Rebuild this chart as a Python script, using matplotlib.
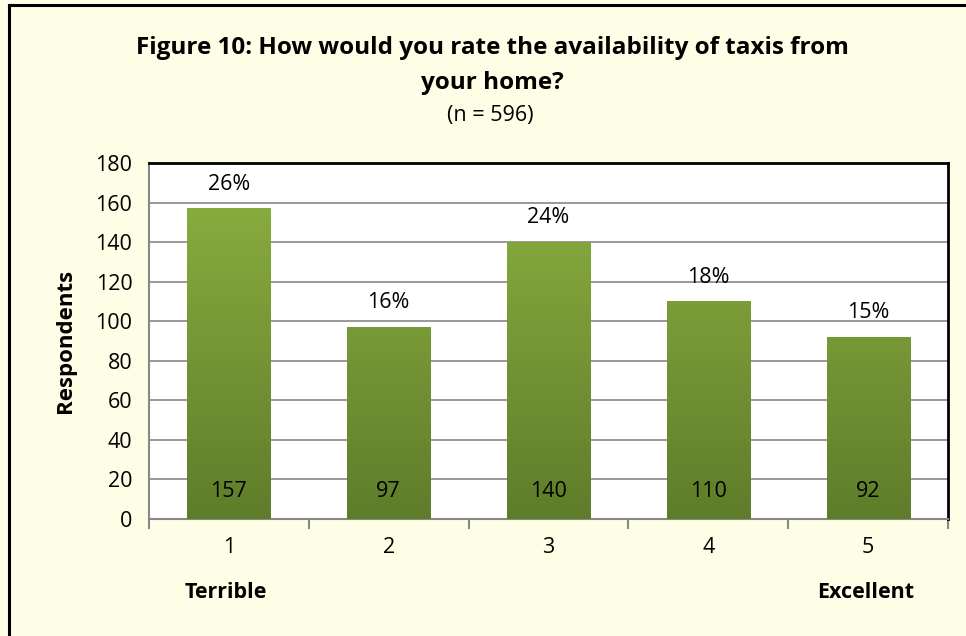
import matplotlib
matplotlib.use("Agg")
import matplotlib.pyplot as plt
import numpy as np
from matplotlib.lines import Line2D
from matplotlib.colors import LinearSegmentedColormap

ratings = ["1", "2", "3", "4", "5"]
respondents = [157, 97, 140, 110, 92]
pct_labels = ["26%", "16%", "24%", "18%", "15%"]
yticks = [0, 20, 40, 60, 80, 100, 120, 140, 160, 180]

plt.rcParams['font.family'] = ['Open Sans', 'DejaVu Sans']
fs = 15.5

fig = plt.figure(figsize=(9.66, 6.36), dpi=100)
fig.patch.set_facecolor('#FEFDE6')

# outer frame (left and top only visible)
fig.add_artist(Line2D([9/966, 9/966], [0, 1 - 5/636], color='black', lw=2.2))
fig.add_artist(Line2D([9/966, 1], [1 - 5/636, 1 - 5/636], color='black', lw=2.2))

ax = fig.add_axes([149/966, 117/636, 799/966, 356/636])
ax.set_facecolor('white')

x = np.arange(len(ratings))
bars = ax.bar(x, respondents, width=0.52, color='none', zorder=3)

# vertical green gradient inside each bar
grad_cmap = LinearSegmentedColormap.from_list('g', ['#5E7D2A', '#8DB241'])
grad = np.linspace(0, 1, 256).reshape(-1, 1)
for b in bars:
    x0, y0 = b.get_x(), b.get_y()
    w, h = b.get_width(), b.get_height()
    im = ax.imshow(grad, cmap=grad_cmap, aspect='auto', origin='lower',
                   extent=[x0, x0 + w, y0, y0 + 180], zorder=3)
    im.set_clip_path(b)

for i, v in enumerate(respondents):
    ax.text(x[i], v + 7, pct_labels[i], ha='center', va='bottom', fontsize=fs)
    ax.text(x[i], 14, str(v), ha='center', va='center', fontsize=fs)

ax.set_xlim(-0.5, 4.5)
ax.set_ylim(0, 180)
ax.set_yticks(yticks)
ax.set_yticklabels([str(t) for t in yticks], fontsize=fs)
ax.set_xticks(x)
ax.set_xticklabels(ratings, fontsize=fs)
ax.tick_params(axis='x', length=0, pad=13)
ax.tick_params(axis='y', length=0, pad=12)
ax.set_xticks(np.arange(-0.5, 5, 1), minor=True)
ax.tick_params(axis='x', which='minor', length=7, color='#888888', width=1.5, direction='out')

ax.grid(axis='y', color='#999999', lw=1.4, zorder=0)
ax.set_axisbelow(True)
for side in ['top', 'right']:
    ax.spines[side].set_color('black')
    ax.spines[side].set_linewidth(2)
for side in ['left', 'bottom']:
    ax.spines[side].set_color('#888888')
    ax.spines[side].set_linewidth(1.5)

ax.set_ylabel('Respondents', fontsize=16, fontweight='bold', labelpad=14)

fig.text(492/966, 1 - 48/636, 'Figure 10: How would you rate the availability of taxis from',
         ha='center', va='center', fontsize=17.5, fontweight='bold')
fig.text(492/966, 1 - 83/636, 'your home?', ha='center', va='center',
         fontsize=17.5, fontweight='bold')
fig.text(490/966, 1 - 115/636, '(n = 596)', ha='center', va='center', fontsize=fs)

fig.text(226/966, 1 - 592/636, 'Terrible', ha='center', va='center', fontsize=fs, fontweight='bold')
fig.text(866/966, 1 - 592/636, 'Excellent', ha='center', va='center', fontsize=fs, fontweight='bold')

fig.savefig('out.png', dpi=100, facecolor=fig.get_facecolor())
